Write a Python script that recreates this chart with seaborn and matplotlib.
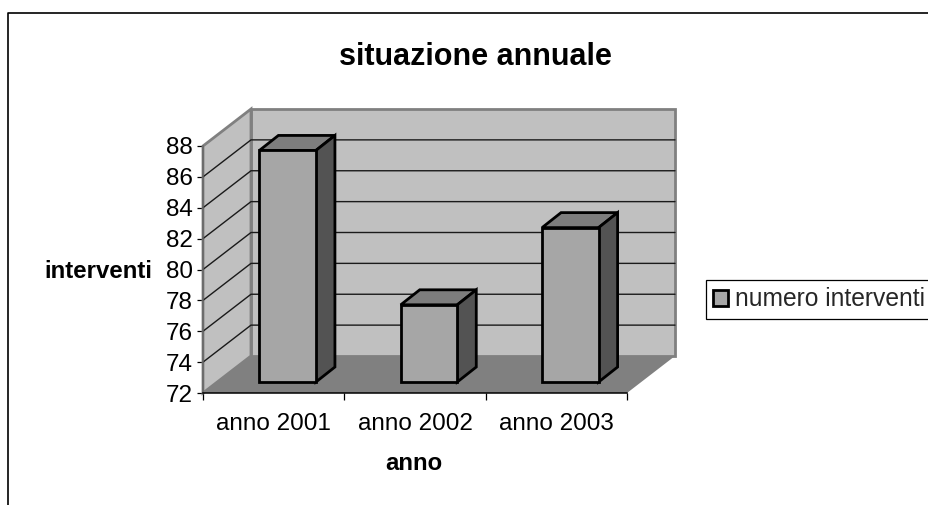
import matplotlib
matplotlib.use("Agg")
import matplotlib.pyplot as plt
import seaborn as sns
import numpy as np
from matplotlib.lines import Line2D
from matplotlib.patches import Polygon
from matplotlib.transforms import Affine2D, IdentityTransform

anni = ["anno 2001", "anno 2002", "anno 2003"]
interventi = [87, 77, 82]
tacche = [72, 74, 76, 78, 80, 82, 84, 86, 88]
griglia = [74, 76, 78, 80, 82, 84, 86]
serie = "numero interventi"

sns.set_theme(style="white")
plt.rcParams["font.family"] = ["Liberation Sans", "DejaVu Sans"]

W, H = 929, 505
fig = plt.figure(figsize=(W / 100, H / 100), dpi=100)
ax = fig.add_axes([203 / W, (H - 393) / H, 424 / W, 247 / H])
ax.patch.set_alpha(0)

ax = sns.barplot(x=anni, y=interventi, color="#a6a6a6", width=0.4, saturation=1,
                 edgecolor="black", linewidth=2, ax=ax, zorder=5)
ax.set_xlim(-0.5, 2.5)
ax.set_ylim(72, 88)


def punto(x, y, dx=0, dy=0):
    # data point moved by a depth in pixels
    return ax.transData.transform((x, y)) + np.array([dx, dy])


def faccia(pts, fc, ec="none", lw=0, z=1):
    ax.add_patch(Polygon(pts, closed=True, fc=fc, ec=ec, lw=lw, zorder=z,
                         transform=IdentityTransform(), clip_on=False))


PX, PY = 48, 37
x0, x1 = -0.5, 2.5

# walls and floor
faccia([punto(x0, 72, PX, PY), punto(x1, 72, PX, PY), punto(x1, 88, PX, PY), punto(x0, 88, PX, PY)],
       "#c0c0c0", "#808080", 2, 1)
faccia([punto(x0, 72), punto(x0, 72, PX, PY), punto(x0, 88, PX, PY), punto(x0, 88)],
       "#c0c0c0", "#808080", 2, 1)
faccia([punto(x0, 72), punto(x1, 72), punto(x1, 72, PX, PY), punto(x0, 72, PX, PY)], "#808080", z=2)

# gridlines
for v in griglia:
    a, b, c = punto(x0, v), punto(x0, v, PX, PY), punto(x1, v, PX, PY)
    ax.add_line(Line2D([a[0], b[0], c[0]], [a[1], b[1], c[1]], color="#1a1a1a", lw=1.0, zorder=3,
                       transform=IdentityTransform(), clip_on=False))

# bars: front face moved into the depth, then top and side faces
sx, sy = 14, 11
dx, dy = 19, 15
spost = Affine2D().translate(sx, sy)
for p in list(ax.patches):
    if isinstance(p, Polygon):
        continue
    h = p.get_height()
    p.set_height(h - 72)
    p.set_y(72)
    p.set_transform(ax.transData + spost)
    p.set_clip_on(False)
    p.set_joinstyle("miter")
    l, r = p.get_x(), p.get_x() + p.get_width()
    faccia([punto(l, h, sx, sy), punto(r, h, sx, sy), punto(r, h, sx + dx, sy + dy), punto(l, h, sx + dx, sy + dy)],
           "#7d7d7d", "black", 2, 4)
    faccia([punto(r, 72, sx, sy), punto(r, 72, sx + dx, sy + dy), punto(r, h, sx + dx, sy + dy), punto(r, h, sx, sy)],
           "#535353", "black", 2, 4)

# axes
for s in ["top", "right"]:
    ax.spines[s].set_visible(False)
ax.spines["bottom"].set(color="black", lw=1.1, zorder=6)
ax.spines["left"].set(color="#666666", lw=1.1, zorder=6)
ax.set_yticks(tacche, [str(t) for t in tacche])
ax.set_xticks([0, 1, 2], anni)
ax.set_xticks([-0.5, 0.5, 1.5, 2.5], minor=True)
ax.tick_params(axis="x", which="major", length=0, pad=14.5, labelsize=17.5, colors="black")
ax.tick_params(axis="x", which="minor", length=5, width=0.9, color="black", bottom=True, direction="out")
ax.tick_params(axis="y", length=4.5, width=0.9, color="black", left=True, direction="out", pad=3,
               labelsize=17.5, labelcolor="black")

fig.text(475 / W, 1 - 57 / H, "situazione annuale", ha="center", va="center",
         fontsize=22, fontweight="bold", color="black")
fig.text(98 / W, 1 - 271 / H, "interventi", ha="center", va="center",
         fontsize=17.3, fontweight="bold", color="black")
fig.text(414 / W, 1 - 463 / H, "anno", ha="center", va="center",
         fontsize=17.3, fontweight="bold", color="black")

# outer frame, cut by the image on the right and at the bottom
fig.add_artist(Line2D([8 / W, 8 / W, 1], [0, 1 - 13 / H, 1 - 13 / H], color="black", lw=1.2))

leg = ax.legend([ax.patches[0]], [serie], loc="center left", bbox_to_anchor=(706 / W, 1 - 299.5 / H),
                bbox_transform=fig.transFigure, frameon=True, fancybox=False, framealpha=1,
                edgecolor="black", fontsize=17.7, handlelength=0.6, handleheight=0.6,
                handletextpad=0.3, borderpad=0.3, borderaxespad=0)
leg.get_frame().set_linewidth(0.9)
leg.set_zorder(10)
for h in leg.legend_handles:
    h.set_linewidth(2)

fig.savefig("out.png", dpi=100)
